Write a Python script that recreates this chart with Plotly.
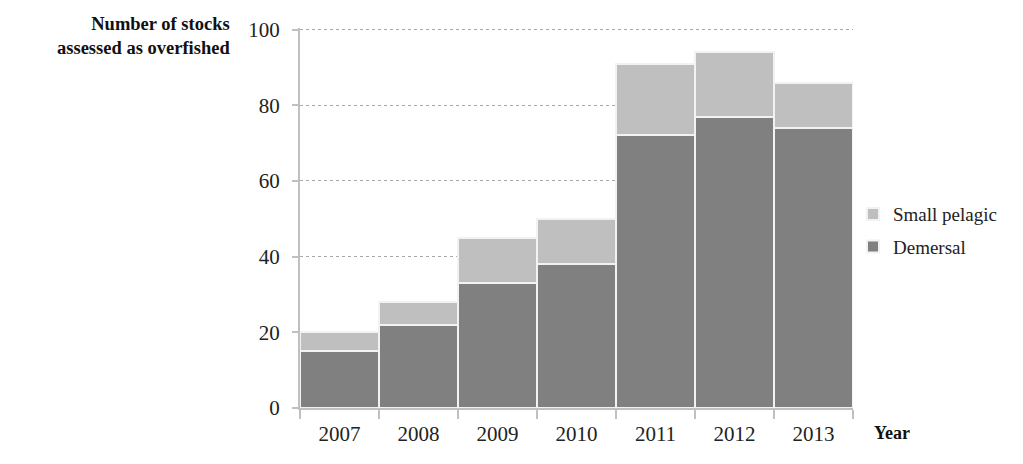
import plotly.graph_objects as go

years = ["2007", "2008", "2009", "2010", "2011", "2012", "2013"]
demersal = [15, 22, 33, 38, 72, 77, 74]
small_pelagic = [5, 6, 12, 12, 19, 17, 12]

font_family = "Liberation Serif, Times New Roman, serif"

fig = go.Figure()
fig.add_trace(go.Bar(x=years, y=demersal, name="Demersal", legendgroup="d", legendrank=2,
                     marker=dict(color="#808080", line=dict(color="#f2f2f2", width=2))))
fig.add_trace(go.Bar(x=years, y=small_pelagic, name="Small pelagic", legendgroup="s", legendrank=1,
                     marker=dict(color="#bfbfbf", line=dict(color="#f2f2f2", width=2))))

fig.update_layout(
    width=1023, height=464,
    barmode="stack", bargap=0,
    plot_bgcolor="white", paper_bgcolor="white",
    margin=dict(l=300, r=170, t=28, b=56),
    font=dict(family=font_family, size=21, color="#222"),
    showlegend=True,
    legend=dict(traceorder="grouped", x=1.0, y=0.467,
                xanchor="left", yanchor="middle",
                font=dict(size=19, color="#222"), itemwidth=30, tracegroupgap=5),
    xaxis=dict(showline=True, linecolor="#c0c0c0", linewidth=2, ticks="outside",
               tickson="boundaries", ticklen=9, tickcolor="#c0c0c0", tickwidth=1.5,
               tickfont=dict(size=21), showgrid=False, ticklabelstandoff=6),
    yaxis=dict(range=[0, 100.4], tickvals=[0, 20, 40, 60, 80, 100], showline=True,
               linecolor="#c0c0c0", linewidth=2,
               ticks="outside", ticklen=6, tickcolor="#c0c0c0", tickwidth=1.5,
               showgrid=True, gridcolor="#a8a8a8", griddash="dot", gridwidth=1,
               tickfont=dict(size=21), zeroline=False, ticklabelstandoff=8),
    annotations=[
        dict(text="<b>Number of stocks</b><br><b>assessed as overfished</b>", xref="paper", yref="paper",
             x=-0.123, y=1.043, xanchor="right", yanchor="top", showarrow=False, align="right",
             font=dict(size=18.5, family=font_family, color="#111")),
        dict(text="<b>Year</b>", xref="paper", yref="paper", x=1.035, y=-0.065,
             xanchor="left", yanchor="middle", showarrow=False,
             font=dict(size=18, family=font_family, color="#111")),
    ],
)

fig.write_html("out.html")
